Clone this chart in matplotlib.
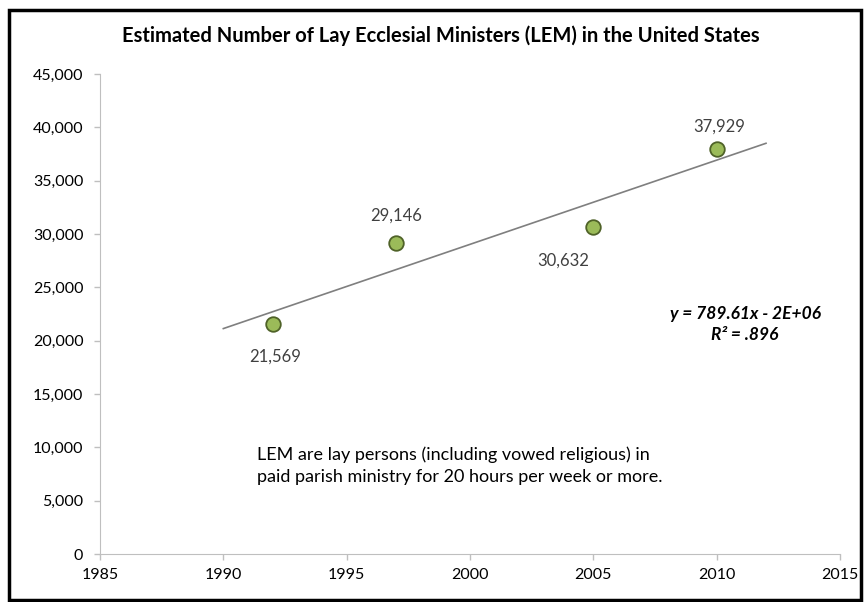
import matplotlib
matplotlib.use("Agg")
import matplotlib.pyplot as plt
import matplotlib.patches as patches
import numpy as np

years = [1992, 1997, 2005, 2010]
counts = [21569, 29146, 30632, 37929]
point_labels = ["21,569", "29,146", "30,632", "37,929"]
xticks = [1985, 1990, 1995, 2000, 2005, 2010, 2015]
yticks = list(range(0, 45001, 5000))
trend_range = [1990, 2012]

plt.rcParams['font.family'] = ['Lato', 'DejaVu Sans']

fig = plt.figure(figsize=(8.64, 6.02), dpi=100)
ax = fig.add_axes([100/864, 1-554/602, 740/864, 480/602])

slope, intercept = np.polyfit(years, counts, 1)
tx = np.array(trend_range, dtype=float)
ax.plot(tx, slope*tx + intercept, color='#7f7f7f', lw=1.2, zorder=2)

ax.scatter(years, counts, s=110, color='#9bbb59', edgecolor='#4f6228', linewidth=1.3, zorder=3)

label_offsets = [(2, -18, 'top'), (0, 14, 'bottom'), (-22, -18, 'top'), (2, 11, 'bottom')]
for x, y, lab, (dx, dy, va) in zip(years, counts, point_labels, label_offsets):
    ax.annotate(lab, (x, y), xytext=(dx, dy), textcoords='offset points',
                ha='center', va=va, fontsize=12, color='#404040')

ax.set_xlim(1985, 2015)
ax.set_ylim(0, 45000)
ax.set_xticks(xticks)
ax.set_yticks(yticks)
ax.set_yticklabels([f"{v:,}" for v in yticks])
ax.tick_params(axis='both', labelsize=11.5, colors='#bfbfbf', labelcolor='#000000', length=4, width=1)
ax.tick_params(axis='y', pad=8)
ax.tick_params(axis='x', pad=6)
for s in ['top', 'right']:
    ax.spines[s].set_visible(False)
for s in ['left', 'bottom']:
    ax.spines[s].set_color('#bfbfbf')

fig.text(441/864, 1-36/602, "Estimated Number of Lay Ecclesial Ministers (LEM) in the United States",
         ha='center', va='center', fontsize=14.5, fontweight='bold')
fig.text(745/864, 1-314/602, "y = 789.61x - 2E+06", ha='center', va='center', fontsize=12.5,
         fontweight='bold', style='italic')
fig.text(745/864, 1-335/602, "R² = .896", ha='center', va='center', fontsize=12.5,
         fontweight='bold', style='italic')
fig.text(257/864, 1-466/602, "LEM are lay persons (including vowed religious) in\npaid parish ministry for 20 hours per week or more.",
         ha='left', va='center', fontsize=13, linespacing=1.45)

fig.patches.append(patches.Rectangle((9/864, 2/602), 852/864, 590/602, transform=fig.transFigure,
                                     fill=False, edgecolor='black', lw=2.5))

fig.savefig("out.png", dpi=100)
